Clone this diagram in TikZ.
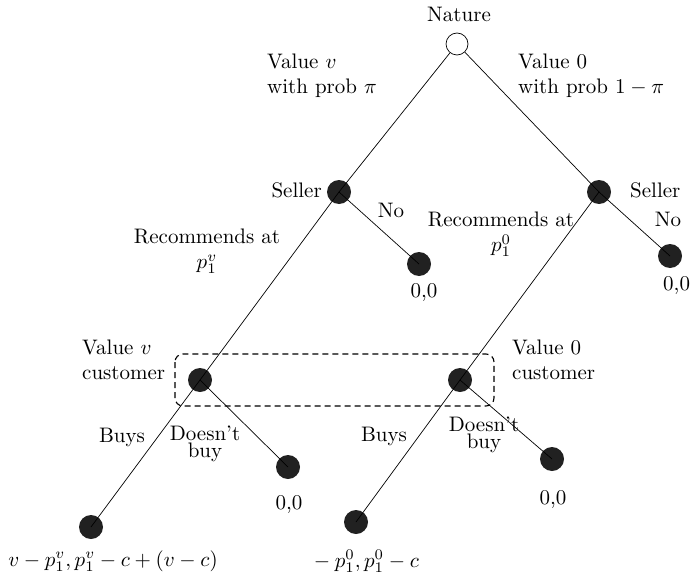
\documentclass[tikz,border=0pt]{standalone}
\usepackage{amsmath}
\usepackage{graphicx}
\newcommand{\tx}[2][c]{\scalebox{2.1}{\begin{tabular}[c]{@{}#1@{}}#2\end{tabular}}}
\begin{document}
\begin{tikzpicture}[x=1pt,y=-1pt,
  every node/.style={font=\fontsize{10}{12}\selectfont},
  dot/.style={circle,fill=black!87,minimum size=24pt,inner sep=0pt},
  chance/.style={circle,draw=black,fill=white,line width=0.7pt,minimum size=22pt,inner sep=0pt},
  edge/.style={line width=0.7pt},
  lbl/.style={inner sep=0pt},
  info/.style={line width=1.1pt,rounded corners=8pt,dash pattern=on 6pt off 4pt}]
\useasboundingbox (0,0) rectangle (690,575);
% nodes
\node[chance] (N) at (457,44) {};
\node[dot] (S1) at (339,192) {};
\node[dot] (S2) at (599,192) {};
\node[dot] (L1) at (419,264) {};
\node[dot] (L2) at (670,256) {};
\node[dot] (C1) at (200,380) {};
\node[dot] (C2) at (460,380) {};
\node[dot] (D1) at (288,467) {};
\node[dot] (D2) at (552,459) {};
\node[dot] (B1) at (91,527) {};
\node[dot] (B2) at (356,522) {};
% edges
\draw[edge] (N) -- (S1.center);
\draw[edge] (N) -- (S2.center);
\draw[edge] (S1.center) -- (L1.center);
\draw[edge] (S1.center) -- (C1.center);
\draw[edge] (S2.center) -- (L2.center);
\draw[edge] (S2.center) -- (C2.center);
\draw[edge] (C1.center) -- (B1.center);
\draw[edge] (C1.center) -- (D1.center);
\draw[edge] (C2.center) -- (B2.center);
\draw[edge] (C2.center) -- (D2.center);
% information set
\draw[info] (175,354) rectangle (494,406);
% labels
\node[lbl] (tN) at (459,16) {\tx{Nature}};
\node[lbl,anchor=west] (tV) at (267,76) {\tx[l]{Value $v$\\with prob $\pi$}};
\node[lbl,anchor=west] (t0) at (518,76) {\tx[l]{Value 0\\with prob $1-\pi$}};
\node[lbl,anchor=east] (tS1) at (322,192) {\tx{Seller}};
\node[lbl] (tNo1) at (391,212) {\tx{No}};
\node[lbl] (tR1) at (207,251) {\tx{Recommends at\\$p_1^v$}};
\node[lbl] (tR2) at (501,234) {\tx{Recommends at\\$p_1^0$}};
\node[lbl] (z1) at (424,292) {\tx{0,0}};
\node[lbl,anchor=west] (tS2) at (630,192) {\tx{Seller}};
\node[lbl] (tNo2) at (668,221) {\tx{No}};
\node[lbl,anchor=west] (z2) at (663,285) {\tx{0,0}};
\node[lbl,anchor=west] (tC1) at (82,362) {\tx[l]{Value $v$\\customer}};
\node[lbl,anchor=west] (tC2) at (512,362) {\tx[l]{Value 0\\customer}};
\node[lbl] (tB1) at (122,437) {\tx{Buys}};
\node[lbl] (tD1) at (205,444) {\tx{Doesn't\\[-3.6pt]buy}};
\node[lbl] (tB2) at (384,436) {\tx{Buys}};
\node[lbl] (tD2) at (484,435) {\tx{Doesn't\\[-3.6pt]buy}};
\node[lbl] (z3) at (289,504) {\tx{0,0}};
\node[lbl] (z4) at (553,499) {\tx{0,0}};
\node[lbl] (pB1) at (113,561) {\tx{$v-p_1^v,p_1^v-c+(v-c)$}};
\node[lbl] (pB2) at (364,562) {\tx{${}-p_1^0,p_1^0-c$}};
\end{tikzpicture}
\end{document}
